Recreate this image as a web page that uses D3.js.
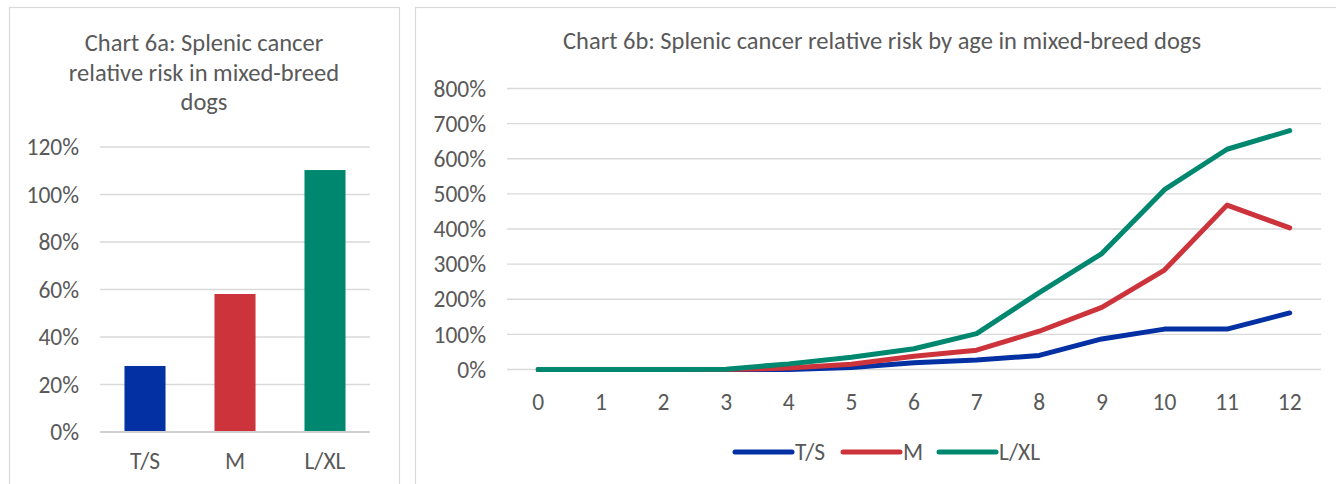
<!DOCTYPE html>
<html>
<head>
<meta charset="utf-8">
<script src="https://cdn.jsdelivr.net/npm/d3@7/dist/d3.min.js"></script>
<style>
  html, body { margin: 0; padding: 0; background: #ffffff; }
  svg { display: block; }
  text { font-family: Carlito, Calibri, Lato, "Open Sans", sans-serif; fill: #595959; }
</style>
</head>
<body>
<svg id="chart" width="1336" height="484"></svg>
<script>
// Dog size groups and overall relative risk (%)
const sizes = ["T/S", "M", "L/XL"];
const overallRisk = [27.8, 58.1, 110.3];
const sizeColors = ["#0330a2", "#cc333b", "#00876f"];

// Age in years and relative risk (%) for each size group
const ages = ["0", "1", "2", "3", "4", "5", "6", "7", "8", "9", "10", "11", "12"];
const tsRisk = [0, 0, 0, 0, 0, 6, 19, 27, 40, 87, 115, 115, 161];
const mRisk = [0, 0, 0, 0, 4, 15, 38, 55, 109, 177, 283, 468, 403];
const lxlRisk = [0, 0, 0, 1, 16, 35, 59, 102, 219, 330, 512, 627, 680];

// Axis tick values (%)
const barTicks = [0, 20, 40, 60, 80, 100, 120];
const lineTicks = [0, 100, 200, 300, 400, 500, 600, 700, 800];

const titleA = ["Chart 6a: Splenic cancer", "relative risk in mixed-breed", "dogs"];
const titleB = "Chart 6b: Splenic cancer relative risk by age in mixed-breed dogs";

const svg = d3.select("#chart");
const gridColor = "#d9d9d9";
const fontSize = 23.5;
const titleSize = 24.5;
const pct = d => d + "%";

// Panel frames
svg.append("rect").attr("x", 9.5).attr("y", 7.5).attr("width", 390).attr("height", 520)
  .attr("fill", "#fff").attr("stroke", gridColor).attr("stroke-width", 1.2);
svg.append("rect").attr("x", 415.5).attr("y", 7.5).attr("width", 940).attr("height", 520)
  .attr("fill", "#fff").attr("stroke", gridColor).attr("stroke-width", 1.2);

// ---------- Chart 6a: bar chart ----------
const a = svg.append("g");
a.append("text").attr("text-anchor", "middle").attr("font-size", titleSize)
  .selectAll("tspan").data(titleA).join("tspan")
  .attr("x", 204).attr("y", (d, i) => 51 + i * 29.5).text(d => d);

const xA = d3.scaleBand().domain(sizes).range([100, 370]).paddingInner(0.544).paddingOuter(0.272);
const yA = d3.scaleLinear().domain([0, 120]).range([432, 147]);

a.append("g").selectAll("line").data(barTicks).join("line")
  .attr("x1", 100).attr("x2", 370)
  .attr("y1", d => yA(d)).attr("y2", d => yA(d))
  .attr("stroke", gridColor).attr("stroke-width", 1.3);

a.append("g").selectAll("text").data(barTicks).join("text")
  .attr("x", 79).attr("y", d => yA(d)).attr("dy", "0.35em")
  .attr("text-anchor", "end").attr("font-size", fontSize).text(pct);

a.append("g").selectAll("rect").data(sizes).join("rect")
  .attr("x", d => xA(d)).attr("width", xA.bandwidth())
  .attr("y", (d, i) => yA(overallRisk[i]))
  .attr("height", (d, i) => yA(0) - yA(overallRisk[i]))
  .attr("fill", (d, i) => sizeColors[i]);

a.append("line").attr("x1", 100).attr("x2", 370).attr("y1", yA(0)).attr("y2", yA(0))
  .attr("stroke", "#d0d0d0").attr("stroke-width", 2);

a.append("g").selectAll("text").data(sizes).join("text")
  .attr("x", d => xA(d) + xA.bandwidth() / 2).attr("y", 469)
  .attr("text-anchor", "middle").attr("font-size", fontSize).text(d => d);

// ---------- Chart 6b: line chart ----------
const b = svg.append("g");
b.append("text").attr("x", 882).attr("y", 49).attr("text-anchor", "middle")
  .attr("font-size", titleSize).text(titleB);

const xB = d3.scalePoint().domain(ages).range([507, 1321]).padding(0.5);
const yB = d3.scaleLinear().domain([0, 800]).range([369.5, 88.5]);

b.append("g").selectAll("line").data(lineTicks).join("line")
  .attr("x1", 507).attr("x2", 1321)
  .attr("y1", d => yB(d)).attr("y2", d => yB(d))
  .attr("stroke", gridColor).attr("stroke-width", 1.3);

b.append("g").selectAll("text").data(lineTicks).join("text")
  .attr("x", 486).attr("y", d => yB(d)).attr("dy", "0.35em")
  .attr("text-anchor", "end").attr("font-size", fontSize).text(pct);

b.append("g").selectAll("text").data(ages).join("text")
  .attr("x", d => xB(d)).attr("y", 410)
  .attr("text-anchor", "middle").attr("font-size", fontSize).text(d => d);

const series = [tsRisk, mRisk, lxlRisk];
const line = d3.line().x((d, i) => xB(ages[i])).y(d => yB(d));

b.append("g").selectAll("path").data(series).join("path")
  .attr("d", line)
  .attr("fill", "none")
  .attr("stroke", (d, i) => sizeColors[i])
  .attr("stroke-width", 5)
  .attr("stroke-linejoin", "round")
  .attr("stroke-linecap", "round");

// Legend
const legendX = [735, 843, 939];
const legend = b.append("g").selectAll("g").data(sizes).join("g")
  .attr("transform", (d, i) => `translate(${legendX[i]},452)`);
legend.append("line").attr("x1", 0).attr("x2", 57).attr("y1", 0).attr("y2", 0)
  .attr("stroke", (d, i) => sizeColors[i]).attr("stroke-width", 5).attr("stroke-linecap", "round");
legend.append("text").attr("x", 60).attr("dy", "0.35em").attr("font-size", fontSize).text(d => d);
</script>
</body>
</html>
